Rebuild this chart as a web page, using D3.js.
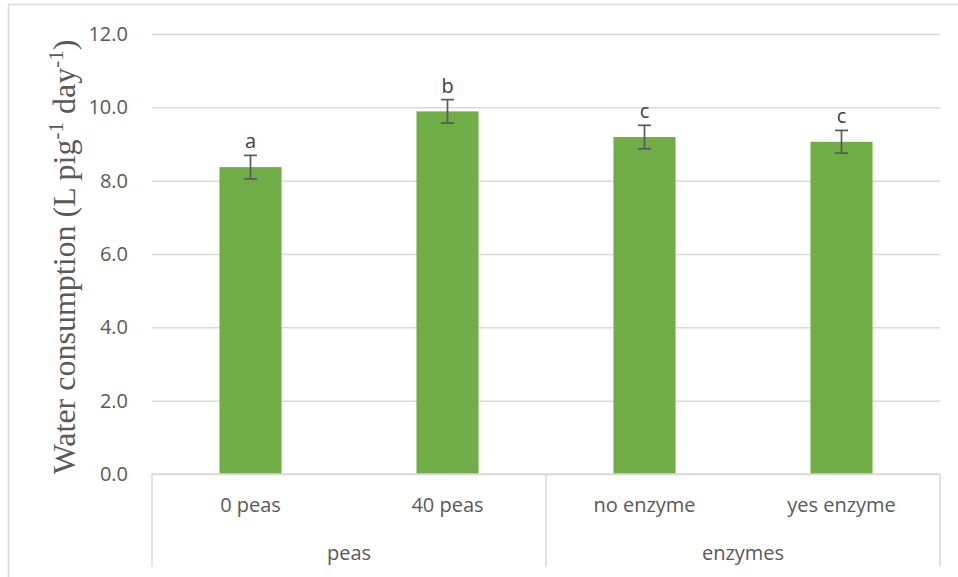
<!DOCTYPE html>
<html>
<head>
<meta charset="utf-8">
<script src="https://cdn.jsdelivr.net/npm/d3@7"></script>
<style>
  html, body { margin: 0; padding: 0; background: #fff; }
  svg { display: block; }
</style>
</head>
<body>
<svg id="chart" width="958" height="577"></svg>
<script>
// Water consumption per pig by treatment
const categories = ["0 peas", "40 peas", "no enzyme", "yes enzyme"];
const groups = ["peas", "peas", "enzymes", "enzymes"];
const groupNames = ["peas", "enzymes"];
const values = [8.37, 9.89, 9.19, 9.06];
const errors = [0.32, 0.32, 0.32, 0.31];
const letters = ["a", "b", "c", "c"];
const yTicks = [0, 2, 4, 6, 8, 10, 12];

const svg = d3.select("#chart");
const plot = { left: 152, right: 940, top: 34, bottom: 474 };
const textColor = "#595959";
const gridColor = "#D9D9D9";
const barColor = "#70AD47";
const sans = "'Open Sans', 'Noto Sans', sans-serif";
const fontSize = "20px";

// chart frame
svg.append("rect")
  .attr("x", 8.5).attr("y", 4.5)
  .attr("width", 1000).attr("height", 1000)
  .attr("fill", "#fff")
  .attr("stroke", gridColor).attr("stroke-width", 1.5);

const x = d3.scaleBand()
  .domain(categories)
  .range([plot.left, plot.right])
  .paddingInner(0.685)
  .paddingOuter(0.685 / 2);

const y = d3.scaleLinear().domain([0, 12]).range([plot.bottom, plot.top]);

// horizontal gridlines + value labels
const yAxis = d3.axisLeft(y)
  .tickValues(yTicks)
  .tickFormat(d3.format(".1f"))
  .tickSize(-(plot.right - plot.left))
  .tickPadding(24);

const gy = svg.append("g")
  .attr("transform", `translate(${plot.left},0)`)
  .call(yAxis);
gy.select(".domain").remove();
gy.selectAll(".tick line").attr("stroke", gridColor).attr("stroke-width", 1.5);
gy.selectAll(".tick text")
  .attr("fill", textColor)
  .style("font-family", sans)
  .style("font-size", fontSize);

// bars
svg.append("g").selectAll("rect")
  .data(categories)
  .join("rect")
  .attr("x", d => x(d))
  .attr("width", x.bandwidth())
  .attr("y", (d, i) => y(values[i]))
  .attr("height", (d, i) => y(0) - y(values[i]))
  .attr("fill", barColor);

// error bars
const capHalf = 6.5;
const eb = svg.append("g")
  .attr("stroke", textColor)
  .attr("stroke-width", 1.7)
  .attr("fill", "none");
categories.forEach((c, i) => {
  const cx = x(c) + x.bandwidth() / 2;
  const hi = y(values[i] + errors[i]);
  const lo = y(values[i] - errors[i]);
  eb.append("line").attr("x1", cx).attr("x2", cx).attr("y1", hi).attr("y2", lo);
  eb.append("line").attr("x1", cx - capHalf).attr("x2", cx + capHalf).attr("y1", hi).attr("y2", hi);
  eb.append("line").attr("x1", cx - capHalf).attr("x2", cx + capHalf).attr("y1", lo).attr("y2", lo);
});

// significance letters
svg.append("g").selectAll("text")
  .data(categories)
  .join("text")
  .attr("x", d => x(d) + x.bandwidth() / 2)
  .attr("y", (d, i) => y(values[i] + errors[i]) - 7)
  .attr("text-anchor", "middle")
  .attr("fill", "#404040")
  .style("font-family", sans)
  .style("font-size", fontSize)
  .text((d, i) => letters[i]);

// category axis: baseline and group separators
const axisBottom = 567;
const ax = svg.append("g").attr("stroke", gridColor).attr("stroke-width", 1.5);
ax.append("line")
  .attr("x1", plot.left).attr("x2", plot.right)
  .attr("y1", y(0)).attr("y2", y(0));

const groupSpans = groupNames.map(g => {
  const members = categories.filter((c, i) => groups[i] === g);
  const first = members[0], last = members[members.length - 1];
  const x0 = x(first) - x.step() * x.paddingInner() / 2;
  const x1 = x(last) + x.bandwidth() + x.step() * x.paddingInner() / 2;
  return { name: g, x0, x1 };
});
const separators = [groupSpans[0].x0].concat(groupSpans.map(s => s.x1));
ax.selectAll("line.sep")
  .data(separators)
  .join("line")
  .attr("class", "sep")
  .attr("x1", d => d).attr("x2", d => d)
  .attr("y1", y(0)).attr("y2", axisBottom);

// category labels
svg.append("g").selectAll("text")
  .data(categories)
  .join("text")
  .attr("x", d => x(d) + x.bandwidth() / 2)
  .attr("y", 512)
  .attr("text-anchor", "middle")
  .attr("fill", textColor)
  .style("font-family", sans)
  .style("font-size", fontSize)
  .text(d => d);

// group labels
svg.append("g").selectAll("text")
  .data(groupSpans)
  .join("text")
  .attr("x", d => (d.x0 + d.x1) / 2)
  .attr("y", 560)
  .attr("text-anchor", "middle")
  .attr("fill", textColor)
  .style("font-family", sans)
  .style("font-size", fontSize)
  .text(d => d.name);

// y-axis title
const title = svg.append("text")
  .attr("transform", "translate(75,257) rotate(-90)")
  .attr("text-anchor", "middle")
  .attr("fill", textColor)
  .style("font-family", "'Liberation Serif', 'Times New Roman', serif")
  .style("font-size", "32px");
title.append("tspan").text("Water consumption (L pig");
title.append("tspan").attr("baseline-shift", "super").style("font-size", "21px").text("-1");
title.append("tspan").text(" day");
title.append("tspan").attr("baseline-shift", "super").style("font-size", "21px").text("-1");
title.append("tspan").text(")");
</script>
</body>
</html>
